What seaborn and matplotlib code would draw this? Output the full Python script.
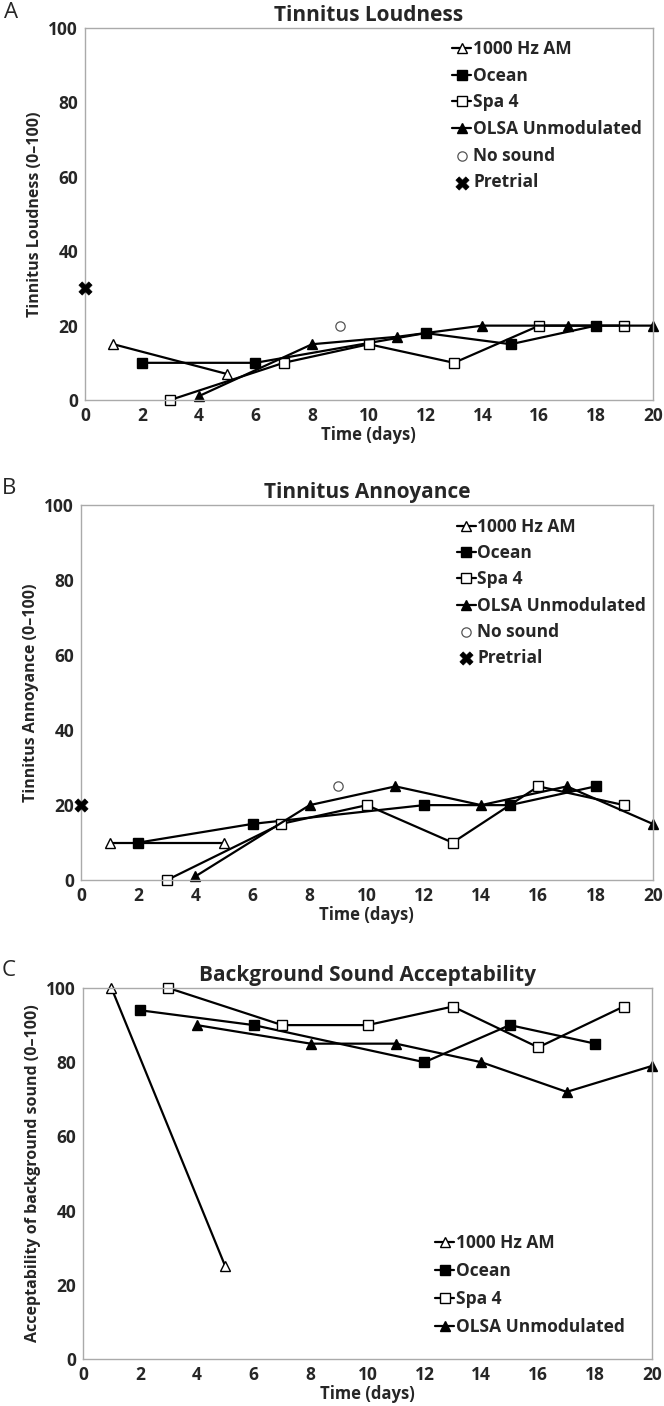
import numpy as np
import pandas as pd
import matplotlib
matplotlib.use("Agg")
import matplotlib.pyplot as plt
import seaborn as sns

# Dados
dias_am = [1, 5]
dias_ocean = [2, 6, 12, 15, 18]
dias_spa = [3, 7, 10, 13, 16, 19]
dias_olsa = [4, 8, 11, 14, 17, 20]
dia_nosound = [9]
dia_pretrial = [0]

# A - Loudness
loud_am = [15, 7]
loud_ocean = [10, 10, 18, 15, 20]
loud_spa = [0, 10, 15, 10, 20, 20]
loud_olsa = [1, 15, 17, 20, 20, 20]
loud_nosound = [20]
loud_pretrial = [30]

# B - Annoyance
ann_am = [10, 10]
ann_ocean = [10, 15, 20, 20, 25]
ann_spa = [0, 15, 20, 10, 25, 20]
ann_olsa = [1, 20, 25, 20, 25, 15]
ann_nosound = [25]
ann_pretrial = [20]

# C - Acceptability
acc_am = [100, 25]
acc_ocean = [94, 90, 80, 90, 85]
acc_spa = [100, 90, 90, 95, 84, 95]
acc_olsa = [90, 85, 85, 80, 72, 79]

sns.set_style("white")
plt.rcParams['font.family'] = ['Open Sans', 'DejaVu Sans']

fig = plt.figure(figsize=(6.64, 14.06), dpi=100)
pos = [[0.128, 0.7155, 0.855, 0.2645],
       [0.122, 0.374, 0.861, 0.2668],
       [0.125, 0.0334, 0.857, 0.2639]]

# letra, titulo, eixo y, posicao da letra (px), legenda (loc, ancora, espacamento)
paineis = [
    ("A", "Tinnitus Loudness", "Tinnitus Loudness (0\u2013100)",
     loud_am, loud_ocean, loud_spa, loud_olsa, loud_nosound, loud_pretrial,
     (4, 13), ('upper left', (0.647, 0.968), 0.5)),
    ("B", "Tinnitus Annoyance", "Tinnitus Annoyance (0\u2013100)",
     ann_am, ann_ocean, ann_spa, ann_olsa, ann_nosound, ann_pretrial,
     (2, 488), ('upper left', (0.657, 0.965), 0.47)),
    ("C", "Background Sound Acceptability", "Acceptability of background sound (0\u2013100)",
     acc_am, acc_ocean, acc_spa, acc_olsa, None, None,
     (2, 970), ('lower left', (0.619, 0.062), 0.57)),
]

for i, (letra, titulo, ylab, am, oc, spa, olsa, ns, pre, lpos, leg_cfg) in enumerate(paineis):
    ax = fig.add_axes(pos[i])
    estilo = dict(color='black', linewidth=1.6, markersize=6.5, clip_on=False,
                  markeredgecolor='black', markeredgewidth=1.0)
    sns.lineplot(x=dias_am, y=am, marker='^', markerfacecolor='white', label='1000 Hz AM',
                 ax=ax, **estilo)
    sns.lineplot(x=dias_ocean, y=oc, marker='s', markerfacecolor='black', label='Ocean',
                 ax=ax, **estilo)
    sns.lineplot(x=dias_spa, y=spa, marker='s', markerfacecolor='white', label='Spa 4',
                 ax=ax, **estilo)
    sns.lineplot(x=dias_olsa, y=olsa, marker='^', markerfacecolor='black',
                 label='OLSA Unmodulated', ax=ax, **estilo)
    if ns is not None:
        sns.scatterplot(x=dia_nosound, y=ns, marker='o', s=45, facecolor='white',
                        edgecolor='#555555', linewidth=0.9, label='No sound', ax=ax, clip_on=False)
        sns.scatterplot(x=dia_pretrial, y=pre, marker='X', s=90, color='black',
                        edgecolor='black', linewidth=0.5, label='Pretrial', ax=ax, clip_on=False,
                        zorder=5)

    ax.set_xlim(0, 20)
    ax.set_ylim(0, 100)
    ax.set_xticks(range(0, 21, 2))
    ax.set_xticks(range(0, 21, 1), minor=True)
    ax.set_yticks(range(0, 101, 20))
    ax.tick_params(axis='x', which='both', direction='in', length=6, color='#999999',
                   labelsize=12.5, pad=5)
    ax.tick_params(axis='y', direction='out', length=3, color='#999999', labelsize=12.5, pad=2)
    for lab in ax.get_xticklabels() + ax.get_yticklabels():
        lab.set_fontweight('bold')
    for sp in ax.spines.values():
        sp.set_color('#aaaaaa')
        sp.set_linewidth(1.0)
    ax.set_xlabel('Time (days)', fontsize=12, fontweight='bold', labelpad=1)
    ax.set_ylabel(ylab, fontsize=11.5, fontweight='bold', labelpad=4)
    ax.set_title(titulo, fontsize=15, fontweight='bold', pad=5)
    fig.text(lpos[0] / 664, 1 - lpos[1] / 1406, letra, fontsize=16, ha='left', va='center')

    loc, ancora, esp = leg_cfg
    ax.legend(loc=loc, bbox_to_anchor=ancora, frameon=False, borderpad=0, borderaxespad=0,
              handlelength=1.1, handletextpad=0.1, labelspacing=esp,
              prop={'size': 12.5, 'weight': 'bold'})

fig.savefig('out.png', dpi=100)
